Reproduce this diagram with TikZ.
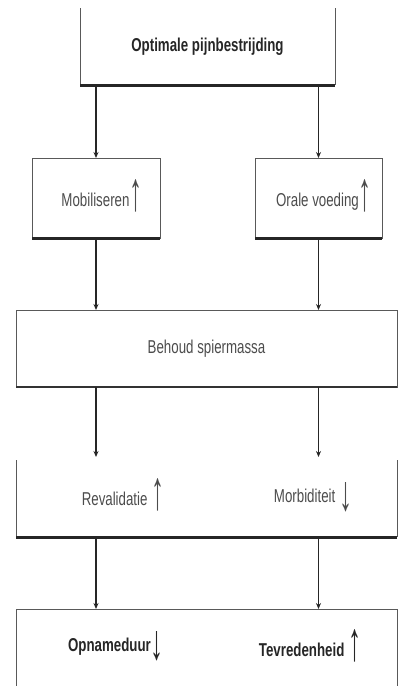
\documentclass[tikz,border=0pt]{standalone}
\usepackage{fontspec}
\setmainfont{Liberation Sans}
\usepackage{graphicx}
\usepackage{tikz}
\usetikzlibrary{arrows.meta,calc,positioning}
\definecolor{ink}{gray}{0.15}
\definecolor{zacht}{gray}{0.3}
\definecolor{rand}{gray}{0.35}

\newcommand{\hoog}[1]{\scalebox{1}[1.4]{#1}}
\newcommand{\omhoog}{\raisebox{-4pt}{\resizebox{13pt}{31pt}{↑}}}
\newcommand{\omlaag}{\raisebox{-8pt}{\resizebox{13pt}{28pt}{↓}}}

\begin{document}
\begin{tikzpicture}[x=1pt,y=-1pt]

\tikzset{vak/.style={inner sep=0pt,outer sep=0pt,font=\fontsize{13.3}{16}\selectfont},
tekst/.style={inner sep=0pt,font=\fontsize{13.3}{16}\selectfont,text=zacht},
lijn/.style={line width=1pt,draw=rand},
schaduw/.style={line width=3pt,draw=black!85},
pijl/.style={-{Stealth[length=6pt,width=5pt]},line width=1.3pt,draw=ink}}

\useasboundingbox (0,0) rectangle (398,686);
\clip (0,0) rectangle (398,686);

% boxes
\node[vak,minimum width=255,minimum height=77,text=ink,font=\fontsize{13.3}{16}\selectfont\bfseries] (pijn) at (207.5,46.5) {\hoog{Optimale pijnbestrijding}};
\node[vak,minimum width=128,minimum height=80] (mob) at (96,198) {};
\node[vak,minimum width=127,minimum height=80] (voed) at (318.5,198) {};
\node[vak,minimum width=381,minimum height=77,text=zacht] (spier) at (206.5,348.5) {\hoog{Behoud spiermassa}};
\node[vak,minimum width=381,minimum height=77] (gevolg) at (206.5,498.5) {};
\node[vak,minimum width=381,minimum height=82] (uitkomst) at (206.5,650) {};

% texts
\node[tekst] (mobtxt) at (102,196) {\hoog{Mobiliseren}\omhoog};
\node[tekst] (voedtxt) at (324,196) {\hoog{Orale voeding}\omhoog};
\node[tekst] (reval) at (123,495) {\hoog{Revalidatie} \omhoog};
\node[tekst] (morb) at (313,497) {\hoog{Morbiditeit} \omlaag};
\node[tekst,text=ink,font=\fontsize{13.3}{16}\selectfont\bfseries] (opname) at (116,646) {\hoog{Opnameduur}\omlaag};
\node[tekst,text=ink,font=\fontsize{13.3}{16}\selectfont\bfseries] (tevreden) at (310,646) {\hoog{Tevredenheid} \omhoog};

% outlines
\draw[lijn] (pijn.north west) -- (pijn.south west) (pijn.north east) -- (pijn.south east);
\foreach \b in {mob,voed,spier,uitkomst} \draw[lijn] (\b.south west) rectangle (\b.north east);
\draw[lijn] (gevolg.north west) -- (gevolg.south west) (gevolg.north east) -- (gevolg.south east);
\foreach \b in {pijn,mob,voed,gevolg} \draw[schaduw] (\b.south west) -- (\b.south east);
\draw[line width=2pt,draw=black!80] (spier.south west) -- (spier.south east);

% arrows
\draw[pijl] (pijn.south -| mob.north) -- (mob.north);
\draw[pijl] (pijn.south -| voed.north) -- (voed.north);
\draw[pijl] (mob.south) -- (mob.south |- spier.north);
\draw[pijl] (voed.south) -- (voed.south |- spier.north);
\draw[pijl] (spier.south -| mob.south) -- ($(gevolg.north -| mob.south)+(0,-3)$);
\draw[pijl] (spier.south -| voed.south) -- ($(gevolg.north -| voed.south)+(0,-3)$);
\draw[pijl] (gevolg.south -| mob.south) -- (uitkomst.north -| mob.south);
\draw[pijl] (gevolg.south -| voed.south) -- (uitkomst.north -| voed.south);

\end{tikzpicture}
\end{document}
